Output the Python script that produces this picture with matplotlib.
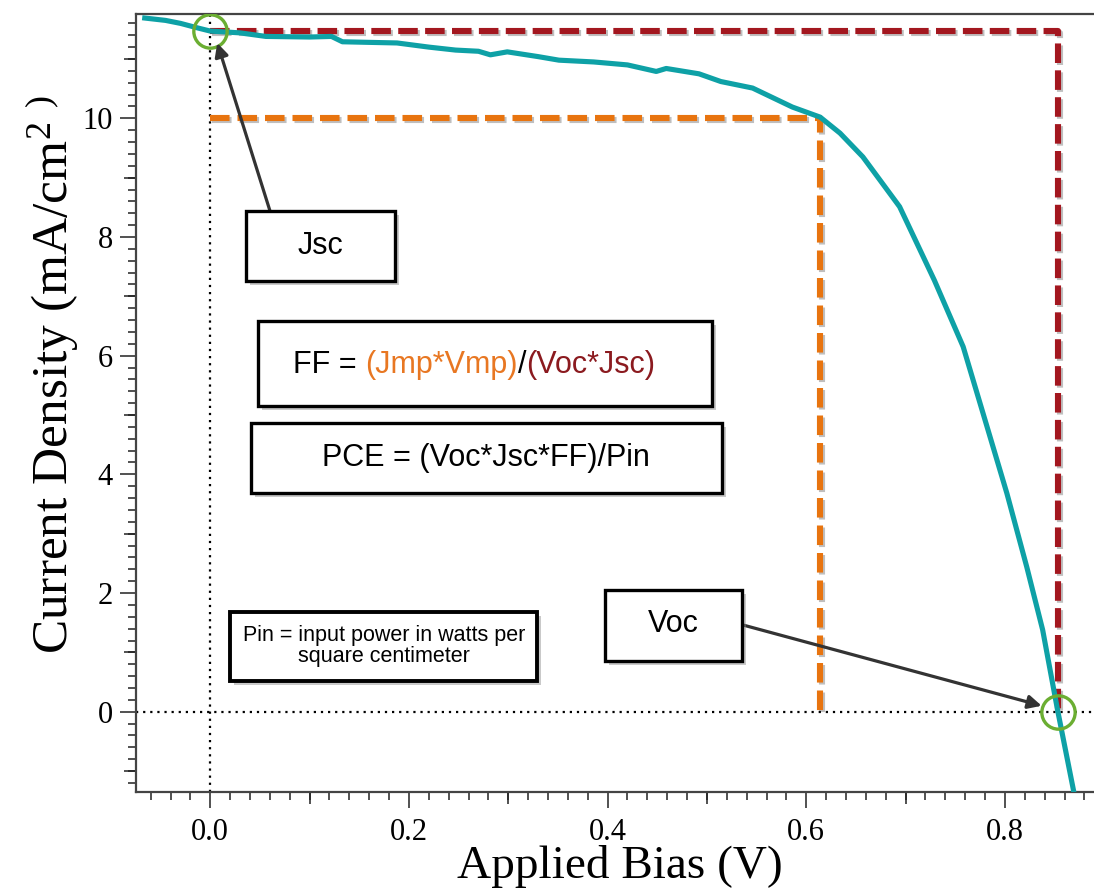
import matplotlib
matplotlib.use("Agg")
import matplotlib.pyplot as plt
import matplotlib.patheffects as pe
from matplotlib.patches import Rectangle
from matplotlib.ticker import MultipleLocator

plt.rcParams["mathtext.default"] = "regular"

# J-V sweep of the cell
bias = [-0.066, -0.045, -0.030, -0.012, 0.000, 0.030, 0.056, 0.100, 0.122, 0.133,
        0.160, 0.188, 0.220, 0.247, 0.270, 0.282, 0.299, 0.330, 0.351, 0.386,
        0.420, 0.449, 0.459, 0.492, 0.514, 0.546, 0.586, 0.614, 0.634, 0.657,
        0.694, 0.729, 0.758, 0.781, 0.802, 0.822, 0.838, 0.853, 0.869]
current = [11.69, 11.65, 11.60, 11.52, 11.47, 11.44, 11.38, 11.37, 11.38, 11.29,
           11.28, 11.27, 11.20, 11.15, 11.13, 11.07, 11.12, 11.04, 10.98, 10.95,
           10.90, 10.79, 10.84, 10.75, 10.62, 10.51, 10.19, 10.02, 9.75, 9.35,
           8.51, 7.27, 6.15, 4.86, 3.68, 2.44, 1.38, 0.03, -1.32]

# key operating points
jsc, voc = 11.47, 0.853
jmp, vmp = 10.0, 0.614

x_major = [0.0, 0.2, 0.4, 0.6, 0.8]
x_labels = ["0.0", "0.2", "0.4", "0.6", "0.8"]
y_major = [0, 2, 4, 6, 8, 10]

TEAL = "#0ea1a6"
RED = "#a3171f"
ORANGE = "#e8740f"
GREEN = "#6bae32"
SERIF = "Liberation Serif"
SANS = "Liberation Sans"

W, H = 1094, 893


def fig_xy(px, py):
    # pixel position (from top-left) -> figure fraction
    return px / W, 1 - py / H


fig = plt.figure(figsize=(W / 100, H / 100), dpi=100)
ax = fig.add_axes([136 / W, 1 - 792 / H, (W - 136) / W, (792 - 14) / H])

ax.set_xlim(-0.0748, 0.8897)
ax.set_ylim(-1.353, 11.758)

ax.axvline(0, color="black", linestyle=(0, (1, 2.2)), linewidth=1.6, zorder=1)
ax.axhline(0, color="black", linestyle=(0, (1, 2.2)), linewidth=1.6, zorder=1)

shadow = [pe.SimpleLineShadow(offset=(1.5, -1.5), alpha=0.25), pe.Normal()]

# Jsc / Voc rectangle and max power rectangle
ax.plot([0, voc, voc], [jsc, jsc, 0], color=RED, linewidth=4.4,
        linestyle=(0, (3.2, 1.2)), path_effects=shadow, zorder=3)
ax.plot([0, vmp, vmp], [jmp, jmp, 0], color=ORANGE, linewidth=4.4,
        linestyle=(0, (3.2, 1.3)), path_effects=shadow, zorder=3)

ax.plot(bias, current, color=TEAL, linewidth=3.7, zorder=4)

for cx, cy in [(0, jsc), (voc, 0)]:
    ax.plot(cx, cy, marker="o", markersize=24, markerfacecolor="none",
            markeredgecolor=GREEN, markeredgewidth=2.4, zorder=5)

# axes styling
for side in ["left", "bottom", "top"]:
    ax.spines[side].set_color("#444444")
    ax.spines[side].set_linewidth(1.6)
ax.spines["right"].set_visible(False)

ax.set_xticks(x_major)
ax.set_xticklabels(x_labels)
ax.set_yticks(y_major)
ax.xaxis.set_minor_locator(MultipleLocator(0.02))
ax.yaxis.set_minor_locator(MultipleLocator(0.2))
ax.tick_params(which="major", direction="out", length=11.5, width=1.1,
               color="#222222", labelsize=22, pad=7, top=False, right=False)
ax.tick_params(axis="y", which="major", pad=5)
ax.tick_params(which="minor", direction="out", length=5.8, width=1.1,
               color="#222222", top=False, right=False)
for lab in ax.get_xticklabels() + ax.get_yticklabels():
    lab.set_fontfamily(SERIF)

# intermediate ticks at 0.1 V and odd mA/cm2
sec_x = ax.secondary_xaxis("bottom")
sec_x.set_xticks([0.1, 0.3, 0.5, 0.7])
sec_x.tick_params(direction="out", length=8.6, width=1.1, color="#222222",
                  labelbottom=False)
sec_x.spines["bottom"].set_visible(False)
sec_y = ax.secondary_yaxis("left")
sec_y.set_yticks([-1, 1, 3, 5, 7, 9, 11])
sec_y.tick_params(direction="out", length=8.6, width=1.1, color="#222222",
                  labelleft=False)
sec_y.spines["left"].set_visible(False)

ax.set_xlabel("Applied Bias (V)", fontsize=34, fontfamily=SERIF)
ax.xaxis.set_label_coords(0.505, -0.068)
ax.set_ylabel("Current Density (mA/cm$^{2}$ $^{)}$", fontsize=37,
              fontfamily=SERIF)
ax.yaxis.set_label_coords(-0.057, 0.536)

# annotation boxes
box_shadow = [pe.withSimplePatchShadow(offset=(3, -3), shadow_rgbFace="#888888",
                                       alpha=0.45)]


def add_box(left, top, right, bottom, lw=2.4):
    x0, y0 = fig_xy(left, bottom)
    x1, y1 = fig_xy(right, top)
    rect = Rectangle((x0, y0), x1 - x0, y1 - y0, transform=fig.transFigure,
                     facecolor="white", edgecolor="black", linewidth=lw,
                     path_effects=box_shadow, zorder=6)
    fig.add_artist(rect)


def add_text(px, py, s, size=22, color="black", ha="center", va="center", **kw):
    x, y = fig_xy(px, py)
    return fig.text(x, y, s, fontsize=size, color=color, ha=ha, va=va,
                    fontfamily=SANS, zorder=7, **kw)


add_box(246, 211, 395, 281)
add_text(320, 246, "Jsc")

add_box(258, 321, 712, 406)
t1 = add_text(293, 373, "FF = ", ha="left", va="baseline")
t2 = fig.text(0, 0, "(Jmp*Vmp)", fontsize=22, color="#e87722", fontfamily=SANS,
              zorder=7)
t3 = fig.text(0, 0, "/", fontsize=22, color="black", fontfamily=SANS, zorder=7)
t4 = fig.text(0, 0, "(Voc*Jsc)", fontsize=22, color="#8b1a1f", fontfamily=SANS,
              zorder=7)
# chain the coloured pieces one after another
fig.canvas.draw()
renderer = fig.canvas.get_renderer()
prev = t1
for piece in (t2, t3, t4):
    bb = prev.get_window_extent(renderer)
    x_next = fig.transFigure.inverted().transform((bb.x1, 0))[0]
    piece.set_position((x_next, prev.get_position()[1]))
    piece.set_va("baseline")
    prev = piece

add_box(251, 423, 722, 493)
add_text(486, 466, "PCE = (Voc*Jsc*FF)/Pin", va="baseline")

add_box(230, 612, 537, 681, lw=2.8)
add_text(384, 646, "Pin = input power in watts per\nsquare centimeter", size=15.5,
         linespacing=1.05)

add_box(605, 590, 742, 661)
add_text(673, 624, "Voc")

arrow = dict(arrowstyle="-|>", color="#333333", lw=2.3, mutation_scale=20,
             shrinkA=0, shrinkB=0)
ax.annotate("", xy=(0.007, jsc - 0.2), xycoords="data",
            xytext=fig_xy(270, 211), textcoords="figure fraction",
            arrowprops=arrow, zorder=6)
ax.annotate("", xy=(voc - 0.016, 0.1), xycoords="data",
            xytext=fig_xy(743, 625), textcoords="figure fraction",
            arrowprops=arrow, zorder=6)

fig.savefig("out.png", dpi=100)
